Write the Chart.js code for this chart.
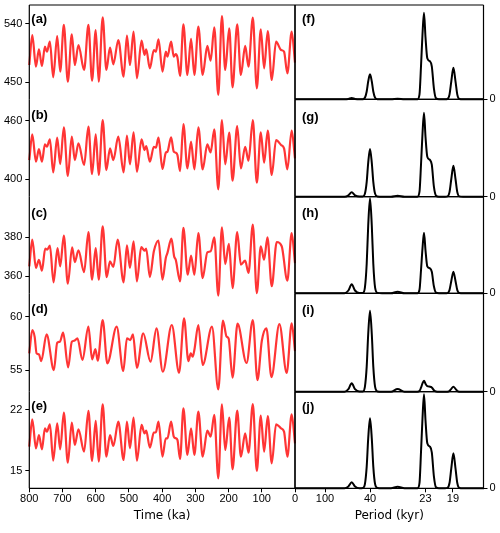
<!DOCTYPE html>
<html>
<head>
<meta charset="utf-8">
<script src="https://cdn.jsdelivr.net/npm/chart.js@4"></script>
<style>
  html, body { margin: 0; padding: 0; background: #fff; }
  #wrap { position: relative; width: 500px; height: 533px; }
  #wrap canvas { position: absolute; left: 0; top: 0; }
</style>
</head>
<body>
<div id="wrap"></div>
<script>
// time (ka) of the turning points (a), (b), (e)
const timeA = [800,791,780,771,762,753,747,738,728,716,707,696,684,672,663,652,635,622,611,600,591,579,568,557,547,532,516,506,497,486,476,462,453,448,437,425,419,411,399,389,384,373,365,359,354,346,336,324,313,303,291,278,264,254,243,231,220,210,198,188,174,163,150,140,127,115,103,93,82,70,57,42,33,23,10,0];
const insolA = [476.7,523.0,474.2,500.9,475.2,505.0,497.3,512.7,457.7,521.5,466.5,538.5,451.0,524.1,476.7,507.6,469.0,538.5,452.6,530.7,451.0,550.3,469.0,503.5,477.8,515.3,458.7,522.0,476.7,528.2,456.2,514.3,492.2,500.9,471.6,499.9,497.3,516.3,466.5,497.3,489.6,512.7,489.6,493.7,488.6,459.8,539.5,461.3,516.9,461.3,535.9,461.3,506.1,483.4,534.9,430.5,552.3,469.0,533.3,442.3,539.5,461.3,506.1,474.2,549.8,440.7,531.8,471.6,529.2,453.6,512.7,499.9,497.3,463.9,528.2,480.3];
const insolB = [419.5,445.9,417.8,430.8,417.8,435.6,433.2,440.8,406.8,442.5,415.4,453.1,403.1,443.5,419.5,436.7,414.4,453.8,405.1,445.9,404.1,460.7,409.2,431.5,419.5,443.5,406.8,444.6,415.1,448.0,407.5,440.8,429.8,433.9,417.8,433.2,432.2,442.5,410.3,427.1,428.1,442.9,428.1,427.1,424.7,408.2,456.6,410.9,438.4,409.9,453.1,409.9,435.6,427.4,451.1,389.3,460.7,415.1,447.7,398.3,454.5,410.9,433.2,418.8,460.7,396.2,448.0,416.8,449.7,404.1,440.1,435.0,431.5,409.9,449.7,421.2];
const insolE = [17.79,20.93,17.60,19.13,17.49,19.90,19.51,20.36,16.19,20.47,17.49,21.69,15.96,20.55,17.98,19.78,17.22,21.89,16.15,20.74,16.07,22.65,16.64,19.13,17.87,20.66,16.26,20.66,17.60,21.12,16.19,20.28,19.32,19.63,17.68,19.40,19.44,20.66,16.64,18.75,18.75,20.66,18.94,18.75,18.56,16.38,22.19,16.84,19.90,16.84,21.81,16.64,19.63,18.94,21.43,14.16,22.65,17.41,21.12,15.19,21.92,16.64,19.32,17.10,22.69,15.00,21.35,17.22,21.31,15.88,20.36,19.90,19.51,16.64,21.50,18.18];

// panel (c)
const timeC = [800,791,780,771,762,752,746,738,727,715,707,696,684,671,663,652,635,622,611,600,591,579,567,557,547,534,516,506,497,486,476,463,453,448,437,425,411,399,389,384,372,364,359,346,336,323,313,303,291,278,264,254,243,231,220,210,199,188,174,163,150,140,127,115,103,93,83,70,55,40,23,10,0];
const insolC = [365.1,378.8,364.3,368.5,362.9,374.2,373.7,375.7,356.9,374.5,365.1,380.9,356.2,374.9,367.3,373.3,362.2,382.6,358.3,374.5,358.3,385.6,359.6,367.7,364.8,378.8,356.9,375.9,364.3,377.9,357.4,375.0,373.2,374.2,359.6,372.8,378.3,358.3,369.4,372.0,379.3,370.3,368.5,357.4,384.8,360.8,370.6,360.8,382.2,359.1,372.3,372.8,380.0,350.1,385.1,366.3,376.6,354.0,382.6,366.0,368.0,361.7,386.5,351.4,375.4,368.5,380.0,354.9,377.6,375.4,357.8,382.2,366.8];

// panel (d)
const timeD = [800,791,784,778,771,764,748,726,716,708,698,683,672,664,655,640,622,611,601,594,579,565,537,517,506,496,488,476,457,435,417,398,371,349,334,321,314,308,303,291,278,250,231,217,206,200,188,173,146,127,113,100,86,71,47,25,10,0];
const insolD = [56.56,58.75,58.13,56.56,56.47,55.84,58.34,55.00,57.56,57.66,58.50,55.25,57.66,57.75,57.97,55.94,59.06,56.00,56.97,55.88,59.69,55.63,59.06,54.91,57.97,57.81,58.34,55.22,58.44,55.78,58.91,54.84,59.22,54.75,59.84,55.84,56.56,56.25,56.88,59.22,55.47,59.06,53.19,59.63,58.13,57.97,54.28,59.34,55.66,59.69,54.06,57.72,58.91,54.34,59.31,54.72,59.38,56.78];

// spectra: frequency (cycles/kyr) and relative power
const freq = [0,0.005,0.010,0.014,0.0165,0.0178,0.0189,0.0200,0.0215,0.0226,0.0233,0.0239,0.0244,0.0250,0.0256,0.0261,0.0267,0.0275,0.0290,0.0320,0.0342,0.0365,0.0395,0.0408,0.0415,0.0420,0.0425,0.0430,0.0435,0.0441,0.0450,0.0456,0.0463,0.0470,0.0480,0.0500,0.0508,0.0515,0.0521,0.0528,0.0535,0.0541,0.0548,0.0560,0.0600,0.0630];
const powerF = [0,0,0,0,0,0.4,1.3,0.4,0,0.1,1.5,7.8,17.8,25,17.8,7.8,1.5,0.1,0,0,0.5,0,0,0,5,33,65,86.6,62,41,38,33,11,1,0,0,0.3,4.7,18,31.6,18,4.7,0.3,0,0,0];
const powerG = [0,0,0,0,0,1.4,4.4,1.4,0.1,0.2,2.9,14.8,33.9,47.7,33.9,14.8,2.9,0.2,0,0,1,0,0,0,5,32,63,84,60,40,36.7,32,10,1,0,0,0.3,4.6,17.7,31,17.7,4.6,0.3,0,0,0];
const powerH = [0,0,0,0,0,2.8,9,2.8,0.2,0.4,5.7,29.5,67.5,95,67.5,29.5,5.7,0.4,0,0,1.6,0,0,0,3.5,23,45,60.6,43,27,25,21.5,7,0.6,0,0,0.2,3.2,12.3,21.6,12.3,3.2,0.2,0,0,0];
const powerI = [0,0,0,0,0,2.6,8.4,2.6,0.2,0.3,4.9,25.1,57.5,81,57.5,25.1,4.9,0.3,0,0,2.7,0,0,0,0.7,4,8.3,11,8,5.5,5,4.3,1.5,0.2,0,0,0.05,0.75,2.9,5,2.9,0.75,0.05,0,0,0];
const powerJ = [0,0,0,0,0,1.9,6,1.9,0.1,0.3,4.2,21.7,49.7,70,49.7,21.7,4.2,0.3,0,0,1.5,0,0,0,5.5,36,70,94,68,45,41.6,36,12,1,0,0,0.35,5.3,20,35,20,5.3,0.35,0,0,0];

// tick labels
const timeTicks = [800,700,600,500,400,300,200,100,0];
const periodTicks = [100,40,23,19];
const yTicksA = [450,540];
const yTicksB = [400,460];
const yTicksC = [360,380];
const yTicksD = [55,60];
const yTicksE = [15,22];

// page geometry
const W = 500, H = 533;
const rows = [[5,99.3],[99.3,196.7],[196.7,293.3],[293.3,391.7],[391.7,488.3]];
const leftEdge = 29.3, midEdge = 295, rightEdge = 483.5;
const fMax = (rightEdge - midEdge) / 3000;
const tickFont = { family: "'Liberation Sans', Arial, sans-serif", size: 11 };
const titleFont = { family: "'DejaVu Sans', sans-serif", size: 12 };

const wrap = document.getElementById('wrap');
function addCanvas() {
  const c = document.createElement('canvas');
  c.width = W; c.height = H;
  wrap.appendChild(c);
  return c;
}

// box lines and the (a)..(j) labels
const framePlugin = {
  id: 'frame',
  afterDatasetsDraw(chart, args, opts) {
    const { ctx, chartArea: a } = chart;
    ctx.save();
    ctx.strokeStyle = '#000';
    ctx.lineWidth = 1.2;
    ctx.beginPath();
    opts.sides.forEach(s => {
      if (s === 'left') { ctx.moveTo(a.left, a.top); ctx.lineTo(a.left, a.bottom); }
      if (s === 'right') { ctx.moveTo(a.right, a.top); ctx.lineTo(a.right, a.bottom); }
      if (s === 'top') { ctx.moveTo(a.left, a.top); ctx.lineTo(a.right, a.top); }
      if (s === 'bottom') { ctx.moveTo(a.left, a.bottom); ctx.lineTo(a.right, a.bottom); }
    });
    ctx.stroke();
    ctx.font = "bold 13px 'Liberation Sans', Arial, sans-serif";
    ctx.fillStyle = '#000';
    ctx.textBaseline = 'middle';
    ctx.fillText(opts.label, a.left + opts.dx, a.top + opts.dy);
    ctx.restore();
  }
};

function noPad(s) { s.paddingTop = 0; s.paddingBottom = 0; s.paddingLeft = 0; s.paddingRight = 0; }

function leftPanel(i, times, values, yMin, yMax, yTicks, label, dy) {
  const [top, bottom] = rows[i];
  const showX = i === 4;
  const sides = ['left', 'right'];
  if (i === 0) sides.push('top');
  if (showX) sides.push('bottom');
  new Chart(addCanvas(), {
    type: 'line',
    data: {
      datasets: [{
        data: times.map((t, k) => ({ x: t, y: values[k] })),
        borderColor: '#ff3535',
        borderWidth: 2.2,
        pointRadius: 0,
        cubicInterpolationMode: 'monotone',
        clip: false
      }]
    },
    options: {
      responsive: false,
      animation: false,
      events: [],
      layout: { padding: { left: 0, right: W - midEdge, top: top, bottom: showX ? 0 : H - bottom } },
      plugins: {
        legend: { display: false },
        tooltip: { enabled: false },
        frame: { sides: sides, label: label, dx: 2, dy: dy }
      },
      scales: {
        x: {
          type: 'linear', reverse: true, min: 0, max: 800, display: showX,
          afterBuildTicks: s => { s.ticks = timeTicks.map(v => ({ value: v })); },
          afterFit: s => { if (showX) s.height = H - rows[4][1]; noPad(s); },
          grid: { drawOnChartArea: false, tickLength: 4, color: '#000' },
          border: { display: false },
          ticks: { color: '#000', font: tickFont, padding: 0, maxRotation: 0, autoSkip: false },
          title: { display: true, text: 'Time (ka)', color: '#000', font: titleFont, padding: { top: 0, bottom: 10 } }
        },
        y: {
          min: yMin, max: yMax,
          afterBuildTicks: s => { s.ticks = yTicks.map(v => ({ value: v })); },
          afterFit: s => { s.width = leftEdge; noPad(s); },
          grid: { drawOnChartArea: false, tickLength: 4, color: '#000' },
          border: { display: false },
          ticks: { color: '#000', font: tickFont, padding: 3 }
        }
      }
    },
    plugins: [framePlugin]
  });
}

function rightPanel(i, values, label, dy) {
  const [top, bottom] = rows[i];
  const showX = i === 4;
  new Chart(addCanvas(), {
    type: 'line',
    data: {
      datasets: [{
        data: freq.map((f, k) => ({ x: f, y: values[k] })),
        borderColor: '#000',
        borderWidth: 2,
        pointRadius: 0,
        cubicInterpolationMode: 'monotone',
        clip: false
      }]
    },
    options: {
      responsive: false,
      animation: false,
      events: [],
      layout: { padding: { left: midEdge, right: 0, top: top, bottom: showX ? 0 : H - bottom } },
      plugins: {
        legend: { display: false },
        tooltip: { enabled: false },
        frame: { sides: ['left', 'right', 'top', 'bottom'], label: label, dx: 7, dy: dy }
      },
      scales: {
        x: {
          type: 'linear', min: 0, max: fMax, display: showX,
          afterBuildTicks: s => { s.ticks = periodTicks.map(p => ({ value: 1 / p })); },
          afterFit: s => { if (showX) s.height = H - rows[4][1]; noPad(s); },
          grid: { drawOnChartArea: false, tickLength: 4, color: '#000' },
          border: { display: false },
          ticks: { color: '#000', font: tickFont, padding: 0, maxRotation: 0, autoSkip: false,
                   callback: (v, k) => String(periodTicks[k]) },
          title: { display: true, text: 'Period (kyr)', color: '#000', font: titleFont, padding: { top: 0, bottom: 10 } }
        },
        y: {
          position: 'right', min: 0, max: bottom - top,
          afterBuildTicks: s => { s.ticks = [{ value: 0 }]; },
          afterFit: s => { s.width = W - rightEdge; noPad(s); },
          grid: { drawOnChartArea: false, tickLength: 4, color: '#000' },
          border: { display: false },
          ticks: { color: '#000', font: tickFont, padding: 2 }
        }
      }
    },
    plugins: [framePlugin]
  });
}

leftPanel(0, timeA, insolA, 423.8, 569.3, yTicksA, '(a)', 14);
leftPanel(1, timeA, insolB, 381.8, 482.0, yTicksB, '(b)', 16);
leftPanel(2, timeC, insolC, 351.3, 400.8, yTicksC, '(c)', 16.5);
leftPanel(3, timeD, insolD, 52.97, 62.19, yTicksD, '(d)', 16.5);
leftPanel(4, timeA, insolE, 13.01, 24.10, yTicksE, '(e)', 14.5);

rightPanel(0, powerF, '(f)', 14);
rightPanel(1, powerG, '(g)', 18.5);
rightPanel(2, powerH, '(h)', 16.5);
rightPanel(3, powerI, '(i)', 17);
rightPanel(4, powerJ, '(j)', 16);
</script>
</body>
</html>
